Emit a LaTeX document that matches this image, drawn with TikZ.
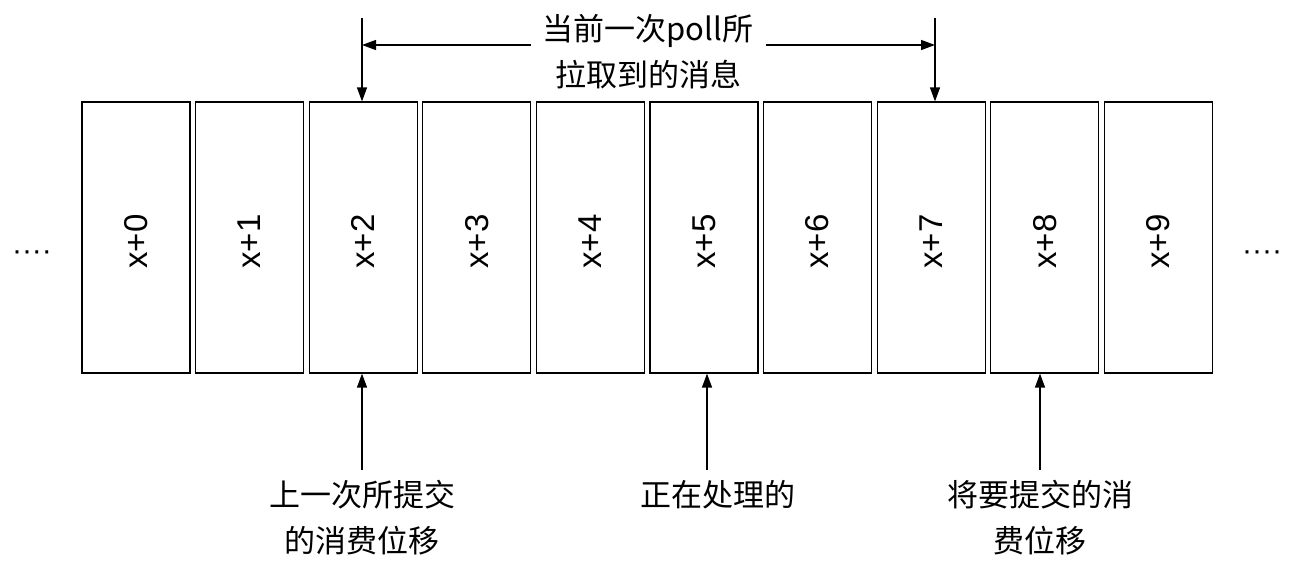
\documentclass[tikz,border=0pt]{standalone}
\usepackage{fontspec}
\setmainfont{Liberation Sans}
\newfontfamily\cjk{Noto Sans CJK SC}
\usetikzlibrary{arrows.meta}
\begin{document}
\begin{tikzpicture}[x=1pt,y=-1pt,
  cell/.style={draw,line width=1.2pt,minimum width=108pt,minimum height=271pt,inner sep=0pt},
  lab/.style={rotate=90,font=\fontsize{33}{33}\selectfont},
  txt/.style={font=\cjk\fontsize{31}{46}\selectfont,align=center},
  arr/.style={line width=1.3pt,-{Triangle[length=14pt,width=10pt]}}]
\useasboundingbox (0,0) rectangle (1300,570);
\foreach \i in {0,...,9}{
  \node[cell] (c\i) at (136+113.6*\i,237.5) {};
  \node[lab] at ([yshift=-4pt]c\i.center) {x+\i};
}
\node[font=\fontsize{30}{30}\selectfont] (dl) at (32,256) {····};
\node[font=\fontsize{30}{30}\selectfont] (dr) at (1262,256) {····};
\node[txt,inner xsep=12pt] (top) at (648,52) {当前一次poll所\\拉取到的消息};
\coordinate (t2) at (362,18);
\coordinate (t7) at (935,18);
\coordinate (h2) at (362,45);
\coordinate (h7) at (935,45);
\draw[arr] (t2) -- (c2.north -| t2);
\draw[arr] (t7) -- (c7.north -| t7);
\draw[arr] (top.west |- h2) -- (h2);
\draw[arr] (top.east |- h7) -- (h7);
\node[txt] (b2) at (362,518) {上一次所提交\\的消费位移};
\node[txt] (b5) at (718,495) {正在处理的};
\node[txt] (b8) at (1040,518) {将要提交的消\\费位移};
\coordinate (u2) at (362,470);
\coordinate (u5) at (707,470);
\coordinate (u8) at (1040,470);
\draw[arr] (u2) -- (c2.south -| u2);
\draw[arr] (u5) -- (c5.south -| u5);
\draw[arr] (u8) -- (c8.south -| u8);
\end{tikzpicture}
\end{document}
